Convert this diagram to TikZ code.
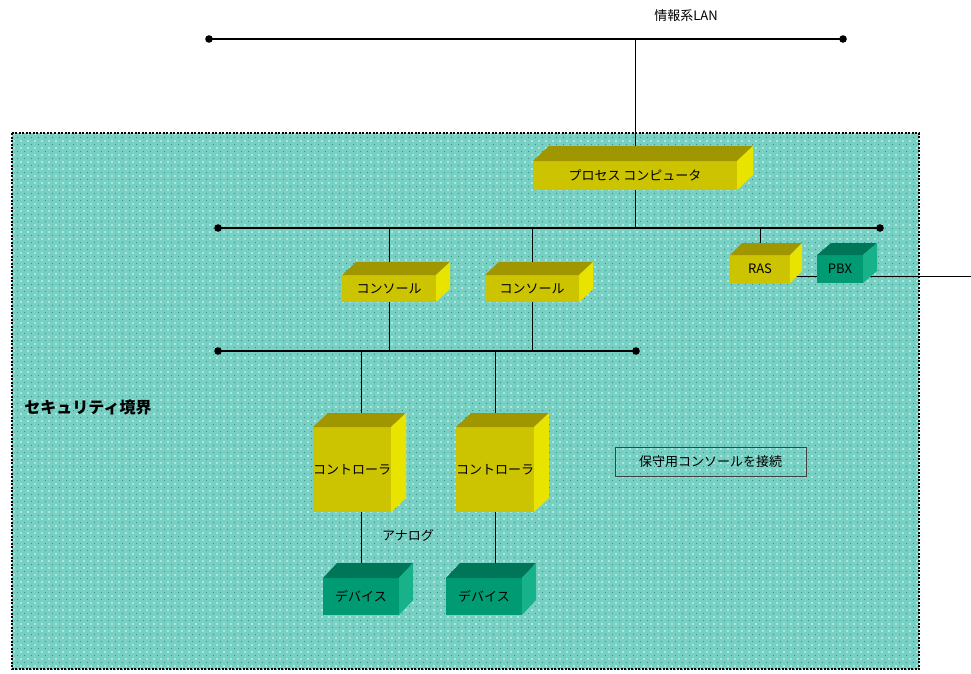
\documentclass[tikz,border=0pt]{standalone}
\usepackage{fontspec}
\newfontfamily\jp{Noto Sans CJK JP}
\usetikzlibrary{patterns.meta}
\pgfdeclarelayer{bg}\pgfdeclarelayer{lines}
\pgfsetlayers{bg,lines,main}
\definecolor{regionfill}{RGB}{118,208,196}
\definecolor{yfront}{RGB}{204,196,0}
\definecolor{ytop}{RGB}{160,150,0}
\definecolor{yside}{RGB}{232,228,0}
\definecolor{gfront}{RGB}{0,155,115}
\definecolor{gtop}{RGB}{0,118,88}
\definecolor{gside}{RGB}{24,178,138}
\tikzset{
  lbl/.style={font=\jp\fontsize{13}{15}\selectfont},
  face/.style={inner sep=0pt, outer sep=0pt, lbl},
  wire/.style={line width=0.8pt, black},
  lanwire/.style={line width=1.2pt, black},
}
% \cuboid{name}{cx}{cy}{w}{h}{dx}{dy}{kind}{text}
\newcommand\cuboid[9]{%
  \node[face, fill=#8front, minimum width=#4pt, minimum height=#5pt] (#1) at (#2,#3) {#9};
  \fill[#8top] (#1.north west) -- ++(#6,-#7) -- ([shift={(#6,-#7)}]#1.north east) -- (#1.north east) -- cycle;
  \fill[#8side] (#1.north east) -- ++(#6,-#7) -- ([shift={(#6,-#7)}]#1.south east) -- (#1.south east) -- cycle;
}
\begin{document}
\begin{tikzpicture}[x=1pt,y=-1pt]
\useasboundingbox (0,0) rectangle (971,673);
% security region
\begin{pgfonlayer}{bg}
\fill[regionfill] (12,133) rectangle (919,669);
\fill[pattern={Dots[distance=7pt,radius=0.8pt]}, pattern color=white!90!regionfill] (12,133) rectangle (919,669);
\fill[pattern={Dots[distance=7pt,radius=0.6pt,xshift=3.5pt,yshift=3.5pt]}, pattern color=regionfill!70!black!80!teal] (12,133) rectangle (919,669);
\draw[line width=1.6pt, dash pattern=on 2pt off 1.5pt] (12,133) rectangle (919,669);
\end{pgfonlayer}
% LAN coordinates
\coordinate (lan1L) at (209,39); \coordinate (lan1R) at (843,39);
\coordinate (lan2L) at (218,228); \coordinate (lan2R) at (880,228);
\coordinate (lan3L) at (218,351); \coordinate (lan3R) at (636,351);
\coordinate (ext) at (971,276);
% boxes
\cuboid{proc}{635}{175.5}{204}{29}{16}{15}{y}{プロセス\ コンピュータ}
\cuboid{con1}{389}{288.5}{94}{27}{14}{13}{y}{コンソール}
\cuboid{con2}{532}{288.5}{94}{27}{14}{13}{y}{コンソール}
\cuboid{ctl1}{352}{469.5}{76}{85}{15}{14}{y}{コントローラ}
\cuboid{ctl2}{495}{469.5}{76}{85}{15}{14}{y}{コントローラ}
\cuboid{dev1}{361}{596.5}{76}{37}{14}{15}{g}{デバイス}
\cuboid{dev2}{484}{596.5}{76}{37}{14}{15}{g}{デバイス}
\cuboid{ras}{760}{269}{60}{28}{12}{12}{y}{RAS}
\cuboid{pbx}{840}{269}{46}{28}{14}{12}{g}{PBX}
% labels
\node[lbl] (lanlbl) at (686,16) {情報系LAN};
\node[font=\jp\bfseries\fontsize{16}{18}\selectfont] (sec) at (88,407) {セキュリティ境界};
\node[lbl] (analog) at (408,535) {アナログ};
\node[lbl, draw=black!75, line width=0.6pt, minimum width=191pt, minimum height=29pt, inner sep=0pt] (maint) at (710.5,461.5) {保守用コンソールを接続};
% connectors
\begin{pgfonlayer}{lines}
\draw[lanwire] (lan1L) -- (lan1R);
\draw[lanwire] (lan2L) -- (lan2R);
\draw[lanwire] (lan3L) -- (lan3R);
\foreach \p in {lan1L,lan1R,lan2L,lan2R,lan3L,lan3R} \fill (\p) circle[radius=3.8pt];
\draw[wire] (proc.north) -- (proc.north |- lan1L);
\draw[wire] (proc.south) -- (proc.south |- lan2L);
\draw[wire] (con1.north) -- (con1.north |- lan2L);
\draw[wire] (con2.north) -- (con2.north |- lan2L);
\draw[wire] (ras.north) -- (ras.north |- lan2L);
\draw[wire] (con1.south) -- (con1.south |- lan3L);
\draw[wire] (con2.south) -- (con2.south |- lan3L);
\draw[wire] (dev1.north |- ctl1.north) -- (dev1.north |- lan3L);
\draw[wire] (ctl2.north) -- (ctl2.north |- lan3L);
\draw[wire] (dev1.north) -- (dev1.north |- ctl1.south);
\draw[wire] (ctl2.south) -- (ctl2.south |- dev2.north);
\draw[wire] ([yshift=-7pt]ras.east) -- ([yshift=-7pt]pbx.west);
\draw[wire] ([yshift=-7pt]pbx.east) -- (ext);
\end{pgfonlayer}
\end{tikzpicture}
\end{document}
